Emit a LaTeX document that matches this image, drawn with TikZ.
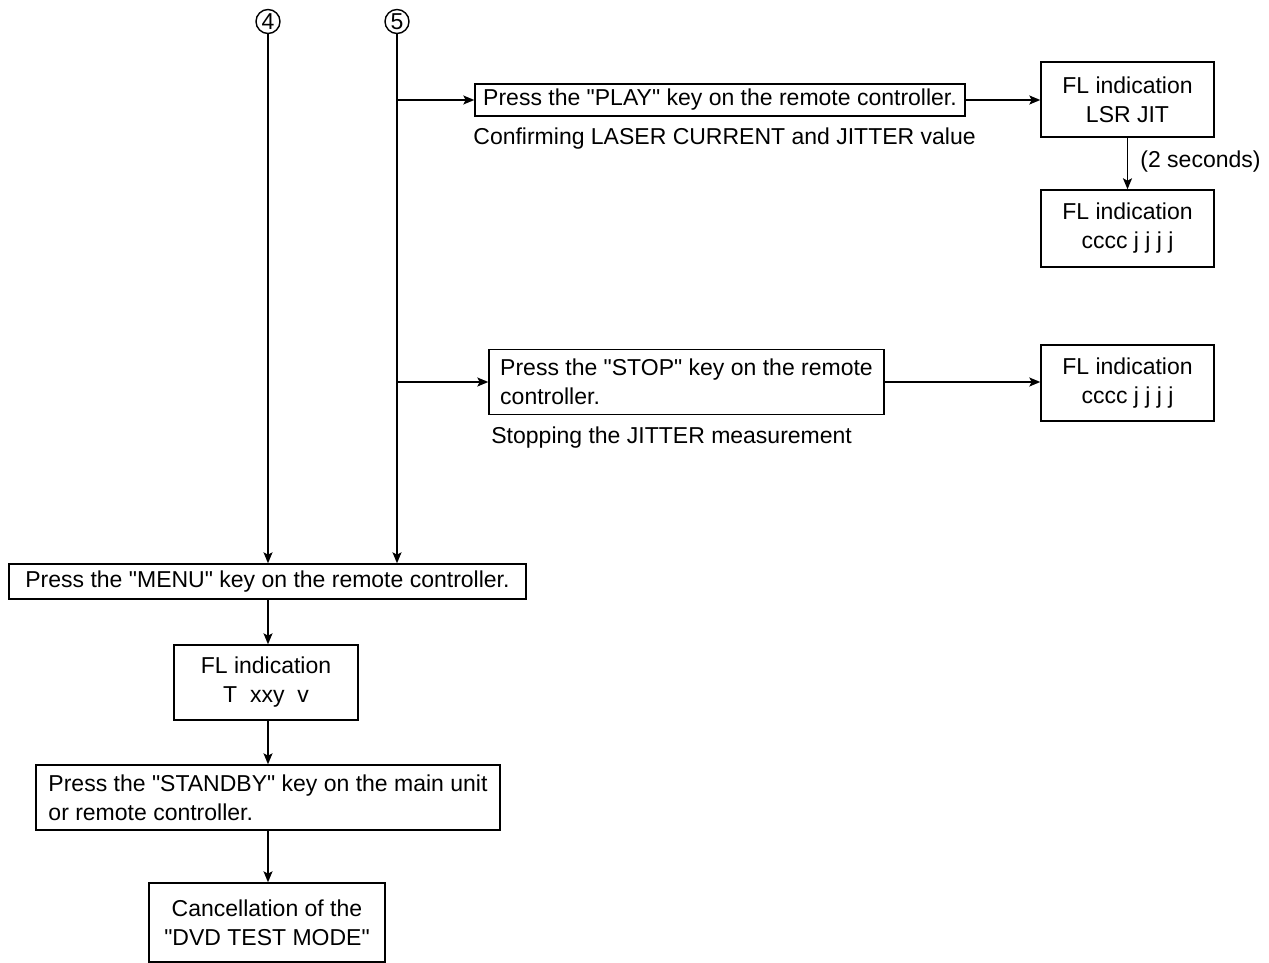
\documentclass[tikz,border=0pt]{standalone}
\usepackage{fontspec}
\setmainfont{Liberation Sans}[Ligatures=TeXOff]
\usetikzlibrary{arrows.meta}
\begin{document}
\begin{tikzpicture}[x=0.5pt,y=-0.5pt,
  every node/.style={font=\fontsize{11.5}{14.5}\selectfont},
  box/.style={draw, line width=0.7pt, inner sep=0pt, align=center},
  lbox/.style={draw, line width=0.7pt, inner sep=0pt, align=left},
  num/.style={draw, circle, line width=0.7pt, inner sep=0pt, minimum size=12pt, font=\fontsize{11.5}{12}\selectfont},
  lab/.style={inner sep=0pt, anchor=west},
  arr/.style={line width=0.7pt, -{Stealth[length=5.5pt,width=4.5pt,inset=1.2pt]}}]
\useasboundingbox (0,0) rectangle (1269,963);
\node[num] (c4) at (268,21.5) {4};
\node[num] (c5) at (397,21.5) {5};
\node[box, minimum width=245pt, minimum height=16pt] (play) at (720,100) {Press the "PLAY" key on the remote controller.};
\node[lab] (conf) at (473,139) {Confirming LASER CURRENT and JITTER value};
\node[box, minimum width=86.5pt, minimum height=37.5pt] (fl1) at (1127.5,99.5) {FL indication\\LSR JIT};
\node[box, minimum width=86.5pt, minimum height=38.5pt] (fl2) at (1127.5,228.5) {FL indication\\cccc j j j j};
\node[lab] (sec) at (1140,162) {(2 seconds)};
\node[lbox, minimum width=197.5pt, minimum height=32.5pt] (stop) at (686.5,382) {Press the "STOP" key on the remote\\controller.};
\node[lab] (stopping) at (491,438) {Stopping the JITTER measurement};
\node[box, minimum width=86.5pt, minimum height=38pt] (fl3) at (1127.5,383) {FL indication\\cccc j j j j};
\node[box, minimum width=258.5pt, minimum height=17.5pt] (menu) at (267.5,581.5) {Press the "MENU" key on the remote controller.};
\node[box, minimum width=92pt, minimum height=37.5pt] (flt) at (266,682.5) {FL indication\\T\ \ xxy\ \ v};
\node[lbox, minimum width=232pt, minimum height=32.5pt] (stby) at (268,797.5) {Press the "STANDBY" key on the main unit\\or remote controller.};
\node[box, minimum width=118pt, minimum height=39.5pt] (cancel) at (267,922.5) {Cancellation of the\\"DVD TEST MODE"};
\draw[arr] (c4) -- (c4 |- menu.north);
\draw[arr] (c5) -- (c5 |- menu.north);
\draw[arr] (c5 |- play.west) -- (play.west);
\draw[arr] (c5 |- stop.west) -- (stop.west);
\draw[arr] (play.east) -- (fl1.west |- play.east);
\draw[arr] (fl1.south) -- (fl2.north);
\draw[arr] (stop.east) -- (fl3.west |- stop.east);
\draw[arr] (c4 |- menu.south) -- (c4 |- flt.north);
\draw[arr] (c4 |- flt.south) -- (c4 |- stby.north);
\draw[arr] (c4 |- stby.south) -- (c4 |- cancel.north);
\end{tikzpicture}
\end{document}
